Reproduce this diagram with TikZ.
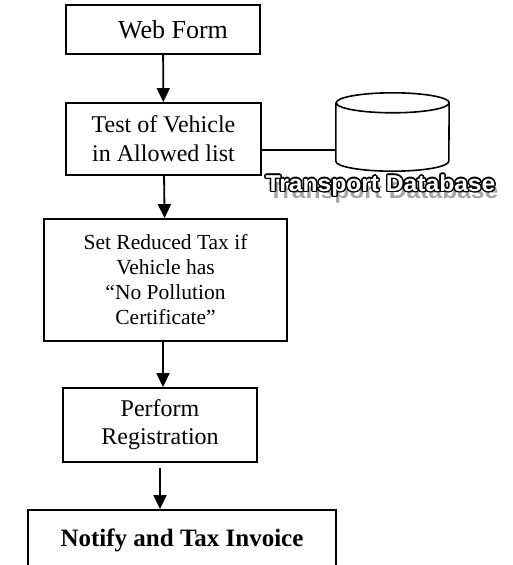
\documentclass[tikz,border=0pt]{standalone}
\usepackage{fontspec}
\setmainfont{Liberation Serif}
\newfontfamily\artfont{Liberation Sans}
\usepackage[copies]{contour}
\usetikzlibrary{arrows.meta,positioning}
\tikzstyle{stepbox}=[draw,line width=1.8pt,align=center,inner sep=0pt]
\tikzstyle{every edge}=[draw,line width=1.8pt,>={Triangle[width=13pt,length=14pt]}]
\tikzstyle{artlabel}=[font=\artfont\bfseries\fontsize{23}{27}\selectfont,xscale=1.07,inner sep=0pt]
\contourlength{1.3pt}

\begin{document}
\begin{tikzpicture}[x=1pt,y=-1pt]
  \useasboundingbox (0,0) rectangle (512,565);
  \node[stepbox,minimum width=194pt,minimum height=49pt,font=\fontsize{26}{31}\selectfont] (web) at (163,29.5) {\hspace*{20pt}Web Form};
  \node[stepbox,minimum width=195pt,minimum height=72pt,font=\fontsize{24}{29}\selectfont] (test) at (163.5,139) {Test of Vehicle\\in Allowed list};
  \node[stepbox,minimum width=243pt,minimum height=122pt,font=\fontsize{21.5}{25}\selectfont] (set) at (165.5,280) {Set Reduced Tax if\\Vehicle has\\“No Pollution\\Certificate”};
  \node[stepbox,minimum width=194pt,minimum height=74pt,font=\fontsize{24}{28}\selectfont] (perform) at (160,425) {Perform\\Registration};
  \node[stepbox,minimum width=308pt,minimum height=60pt,font=\bfseries\fontsize{25}{30}\selectfont] (notify) at (182,540) {Notify and Tax Invoice};

  % database
  \node[minimum width=113pt,minimum height=78pt,inner sep=0pt] (db) at (392.5,132) {};
  \draw[line width=1.6pt] ([yshift=-10pt]db.north west) -- ([yshift=10pt]db.south west)
     arc[start angle=180,end angle=360,x radius=56.5pt,y radius=10pt]
     -- ([yshift=-10pt]db.north east)
     arc[start angle=0,end angle=360,x radius=56.5pt,y radius=10pt];
  \node[artlabel,text=black!35] (dbshadow) at (383.5,193) {Transport Database};
  \node[artlabel] (dblabel) at (380.5,186) {\contour{black}{\textcolor{white}{Transport Database}}};

  \path[->,line width=1.8pt] (web) edge (test)
        (test) edge (set)
        ([xshift=-2.5pt]set.south) edge ([xshift=3pt]perform.north)
        ([yshift=-5pt]perform.south) edge (perform.south |- notify.north);
  \draw[line width=1.8pt] ([yshift=-11pt]test.east) -- ([yshift=-11pt]test.east -| db.west);
\end{tikzpicture}
\end{document}
